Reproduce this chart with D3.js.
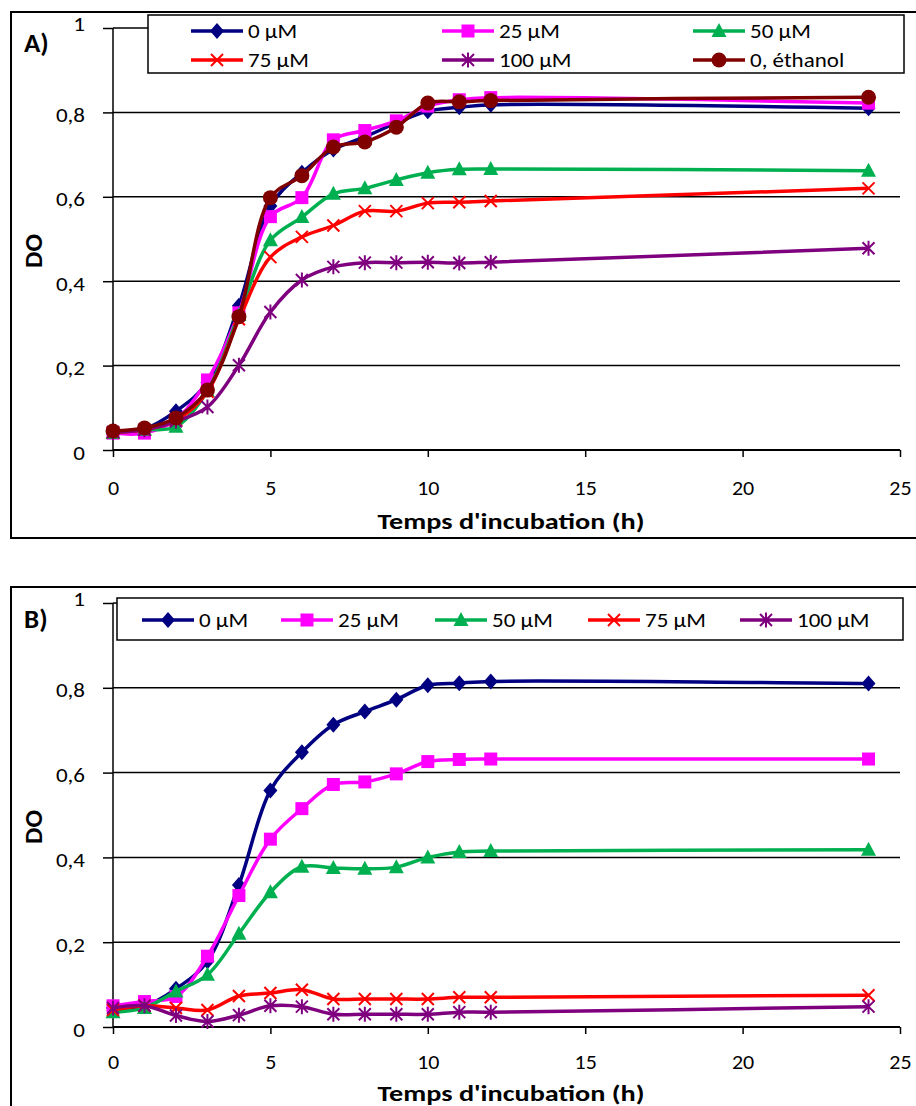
<!DOCTYPE html>
<html><head><meta charset="utf-8">
<script src="https://cdn.jsdelivr.net/npm/d3@7"></script>
<style>
html,body{margin:0;padding:0;background:#fff;}
svg{display:block;}
text{font-family:Carlito,Calibri,Lato,"Open Sans",sans-serif;fill:#000;}
</style></head>
<body>
<script>
// ---------- DATA ----------
const hours = [0,1,2,3,4,5,6,7,8,9,10,11,12,24];
const xTicks = [0,5,10,15,20,25];
const yTicks = [0,0.2,0.4,0.6,0.8,1];
const seriesNames = ["0 µM","25 µM","50 µM","75 µM","100 µM","0, éthanol"];

// Panel A
const A_0uM   = [0.045,0.050,0.092,0.160,0.342,0.578,0.657,0.712,0.742,0.775,0.803,0.812,0.818,0.810];
const A_25uM  = [0.040,0.040,0.072,0.166,0.325,0.553,0.598,0.735,0.757,0.780,0.815,0.830,0.835,0.822];
const A_50uM  = [0.040,0.048,0.055,0.140,0.320,0.497,0.552,0.607,0.620,0.640,0.657,0.665,0.666,0.662];
const A_75uM  = [0.042,0.048,0.070,0.138,0.310,0.457,0.505,0.532,0.566,0.566,0.585,0.587,0.590,0.620];
const A_100uM = [0.042,0.048,0.068,0.102,0.201,0.327,0.403,0.434,0.444,0.444,0.445,0.443,0.445,0.478];
const A_eth   = [0.045,0.052,0.076,0.142,0.316,0.598,0.650,0.718,0.730,0.765,0.822,0.825,0.828,0.836];

// Panel B
const B_0uM   = [0.045,0.050,0.090,0.155,0.335,0.558,0.648,0.713,0.744,0.772,0.806,0.811,0.815,0.810];
const B_25uM  = [0.050,0.060,0.072,0.167,0.310,0.443,0.515,0.572,0.578,0.597,0.626,0.631,0.632,0.632];
const B_50uM  = [0.035,0.045,0.084,0.123,0.220,0.318,0.378,0.375,0.373,0.377,0.400,0.413,0.415,0.418];
const B_75uM  = [0.040,0.050,0.045,0.040,0.073,0.080,0.088,0.066,0.066,0.066,0.066,0.070,0.070,0.075];
const B_100uM = [0.045,0.050,0.027,0.013,0.028,0.050,0.048,0.030,0.030,0.030,0.030,0.035,0.035,0.048];

// ---------- STYLE ----------
const colors = ["#000080","#FF00FF","#00B050","#FF0000","#7F007F","#800000"];
const markers = ["diamond","square","triangle","x","star","circle"];
const FONT = "Carlito,Calibri,Lato,sans-serif";

const W = 916, H = 1106;
const svg = d3.select("body").append("svg").attr("width",W).attr("height",H);

function stretch(sel, f){
  sel.each(function(){
    const n = this.getComputedTextLength();
    d3.select(this).attr("textLength", n*f).attr("lengthAdjust","spacingAndGlyphs");
  });
}

function drawMarker(g, type, color, x, y){
  const s = g.append("g").attr("transform",`translate(${x},${y})`);
  if(type==="diamond"){
    s.append("path").attr("d","M0,-8L7,0L0,8L-7,0Z").attr("fill",color);
  } else if(type==="square"){
    s.append("rect").attr("x",-6.5).attr("y",-6.5).attr("width",13).attr("height",13).attr("fill",color);
  } else if(type==="triangle"){
    s.append("path").attr("d","M0,-8L7.5,6L-7.5,6Z").attr("fill",color);
  } else if(type==="circle"){
    s.append("circle").attr("r",7.5).attr("fill",color);
  } else if(type==="x"){
    s.append("path").attr("d","M-6,-6L6,6M-6,6L6,-6").attr("stroke",color).attr("stroke-width",2).attr("fill","none");
  } else if(type==="star"){
    s.append("path").attr("d","M-6,-6L6,6M-6,6L6,-6M0,-7.5L0,7.5").attr("stroke",color).attr("stroke-width",2).attr("fill","none");
  }
}

function panel(cfg){
  const g = svg.append("g");
  g.append("rect").attr("x",11).attr("y",cfg.boxTop).attr("width",940).attr("height",cfg.boxH)
    .attr("fill","#fff").attr("stroke","#000").attr("stroke-width",2);

  const x = d3.scaleLinear().domain([0,25]).range([113,900]);
  const y = d3.scaleLinear().domain([0,1]).range([cfg.y0,cfg.y1]);

  g.append("g").selectAll("line").data(yTicks.filter(d=>d>0)).join("line")
    .attr("x1",113).attr("x2",900).attr("y1",d=>y(d)).attr("y2",d=>y(d))
    .attr("stroke","#000").attr("stroke-width",1.5);

  const ya = g.append("g").attr("transform","translate(113,0)")
    .call(d3.axisLeft(y).tickValues(yTicks).tickSize(10).tickPadding(18)
      .tickFormat(d=>d===0||d===1?String(d):d3.format(".1f")(d).replace(".",",")));
  ya.select(".domain").attr("stroke","#000").attr("stroke-width",1.5).attr("d",`M0,${cfg.y1}V${cfg.y0}`);
  ya.selectAll(".tick line").attr("stroke","#000").attr("stroke-width",1.5);
  const yt = ya.selectAll(".tick text").attr("font-size",20).attr("font-family",FONT).attr("fill","#000").attr("dy","0.45em");
  stretch(yt,1.15);
  ya.selectAll(".tick").filter(d=>d===1).select("text").attr("dy","0.1em");

  const xa = g.append("g").attr("transform",`translate(0,${cfg.y0})`)
    .call(d3.axisBottom(x).tickValues(xTicks).tickSize(7).tickPadding(cfg.xPad).tickFormat(d3.format("d")));
  xa.select(".domain").attr("stroke","#000").attr("stroke-width",2).attr("d",`M113,0H900`);
  xa.selectAll(".tick line").attr("stroke","#000").attr("stroke-width",1.5);
  const xt = xa.selectAll(".tick text").attr("font-size",20).attr("font-family",FONT).attr("fill","#000");
  stretch(xt,1.1);

  g.append("text").attr("x",511).attr("y",cfg.titleY).attr("text-anchor","middle")
    .attr("font-size",22).attr("font-weight","bold")
    .attr("textLength",267).attr("lengthAdjust","spacingAndGlyphs")
    .text("Temps d'incubation (h)");
  g.append("text").attr("transform",`translate(42,${(cfg.y0+cfg.y1)/2+12}) rotate(-90)`)
    .attr("text-anchor","middle").attr("font-size",25).attr("font-weight","bold")
    .attr("textLength",34).attr("lengthAdjust","spacingAndGlyphs").text("DO");
  g.append("text").attr("x",24).attr("y",cfg.labelY).attr("font-size",27).attr("font-weight","bold").text(cfg.label);

  const line = d3.line().x((d,i)=>x(hours[i])).y(d=>y(d)).curve(d3.curveCatmullRom.alpha(0.5));
  cfg.series.forEach((vals,k)=>{
    g.append("path").datum(vals).attr("d",line).attr("fill","none")
      .attr("stroke",colors[k]).attr("stroke-width",3.5).attr("stroke-linejoin","round");
    vals.forEach((v,i)=>drawMarker(g,markers[k],colors[k],x(hours[i]),y(v)));
  });

  const L = cfg.legend;
  g.append("rect").attr("x",L.x).attr("y",L.y).attr("width",L.w).attr("height",L.h)
    .attr("fill","#fff").attr("stroke","#000").attr("stroke-width",1.5);
  L.items.forEach((it,k)=>{
    g.append("line").attr("x1",it[0]).attr("x2",it[0]+52).attr("y1",it[1]).attr("y2",it[1])
      .attr("stroke",colors[k]).attr("stroke-width",3.5);
    drawMarker(g,markers[k],colors[k],it[0]+26,it[1]);
    const t = g.append("text").attr("x",it[0]+57).attr("y",it[1]+7).attr("font-size",20).text(seriesNames[k]);
    stretch(t,1.15);
  });
}

panel({
  label:"A)", labelY:52, boxTop:12, boxH:526, y0:450, y1:28, xPad:24, titleY:529,
  series:[A_0uM,A_25uM,A_50uM,A_75uM,A_100uM,A_eth],
  legend:{x:148,y:15,w:756,h:58,items:[[191,31],[442,31],[693,31],[191,60],[442,60],[693,60]]}
});
panel({
  label:"B)", labelY:628, boxTop:587, boxH:540, y0:1027, y1:603, xPad:21, titleY:1101,
  series:[B_0uM,B_25uM,B_50uM,B_75uM,B_100uM],
  legend:{x:117,y:598,w:786,h:42,items:[[142,620],[281,620],[435,620],[588,620],[740,620]]}
});
</script>
</body></html>
